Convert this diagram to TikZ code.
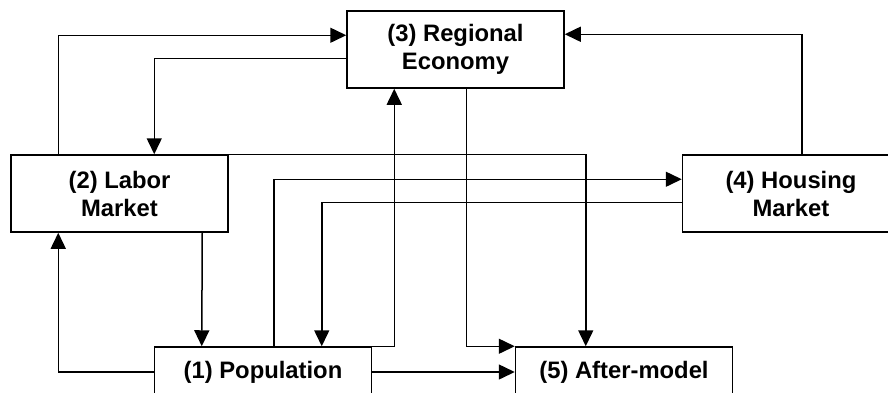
\documentclass[tikz,border=0pt]{standalone}
\usepackage{fontspec}
\setmainfont{Liberation Sans}
\usetikzlibrary{calc,arrows.meta}
\begin{document}
\begin{tikzpicture}[x=1pt,y=-1pt,
  box/.style={draw,line width=1.5pt,minimum width=217pt,minimum height=77pt,
    inner sep=0pt,align=center,font=\fontsize{23.8}{28}\selectfont\bfseries},
  lowbox/.style={box,minimum height=50pt},
  arr/.style={line width=1.5pt,-{Triangle[length=16pt,width=15pt]}}]
\useasboundingbox (0,0) rectangle (888,392);
\clip (0,0) rectangle (888,392);
\fill[white] (0,0) rectangle (888,392);

% model blocks
\node[box] (reg) at (455.5,49.5) {(3) Regional\\Economy};
\node[box] (lab) at (119.5,193.5) {(2) Labor\\Market};
\node[box] (hou) at (791,193.5) {(4) Housing\\Market};
\node[lowbox] (pop) at (263,372) {(1) Population};
\node[lowbox] (aft) at (624,372) {(5) After-model};

% flows between blocks
\draw[arr] ($(lab.north west)+(48,0)$) |- ($(reg.north west)+(0,25)$);
\draw[arr] ($(reg.north west)+(0,48)$) -| ($(lab.north west)+(144,0)$);
\draw[arr] ($(hou.north west)+(120,0)$) |- ($(reg.north east)+(0,24)$);
\draw[arr] (pop.north east) -| ($(reg.south west)+(48,0)$);
\draw[arr] ($(pop.north west)+(120,0)$) |- ($(hou.north west)+(0,25)$);
\draw[arr] ($(hou.north west)+(0,48)$) -| ($(pop.north west)+(168,0)$);
\draw[arr] (lab.north east) -| ($(aft.north west)+(71,0)$);
\draw[arr] ($(reg.south west)+(120,0)$) |- (aft.north west);
\draw[arr] (pop.east) -- (aft.west);
\draw[arr] (pop.west) -| ($(lab.south west)+(48,0)$);
\draw[arr] ($(lab.south west)+(192,0)$) -- ($(pop.north west)+(48,0)$);
\end{tikzpicture}
\end{document}
